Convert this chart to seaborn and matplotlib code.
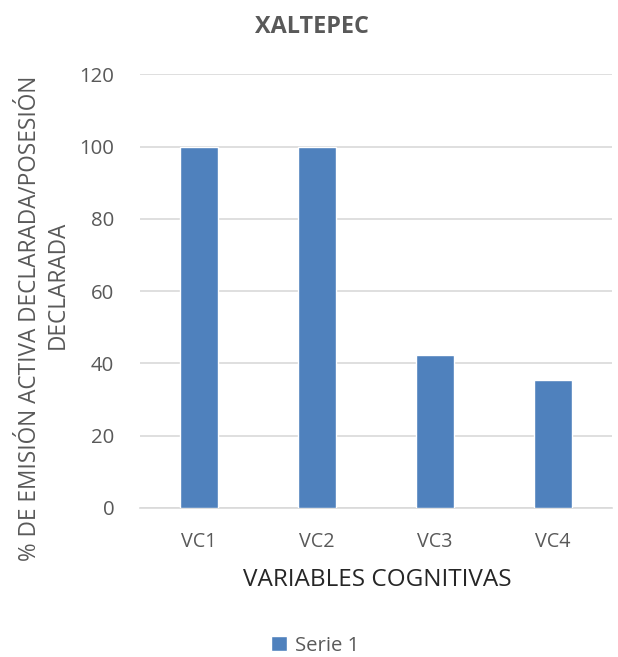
import matplotlib
matplotlib.use("Agg")
import matplotlib.pyplot as plt
import seaborn as sns
import pandas as pd

categories = ["VC1", "VC2", "VC3", "VC4"]
serie_1 = [100, 100, 42.3, 35.3]
y_ticks = [0, 20, 40, 60, 80, 100, 120]

df = pd.DataFrame({"cat": categories, "val": serie_1})

sns.set_theme(style="white")
plt.rcParams["font.family"] = ["Open Sans", "DejaVu Sans"]

fig = plt.figure(figsize=(6.18, 6.57), dpi=100)
ax = fig.add_axes([0.2265, 0.2268, 0.7635, 0.6602])

sns.barplot(data=df, x="cat", y="val", color="#4f81bd", saturation=1,
            width=0.32, ax=ax, label="Serie 1", zorder=3)

ax.set_ylim(0, 120)
ax.set_yticks(y_ticks)
ax.set_xlim(-0.5, 3.5)
ax.yaxis.grid(True, color="#d9d9d9", linewidth=1.2, zorder=0)
ax.xaxis.grid(False)
for side in ["left", "right", "top"]:
    ax.spines[side].set_visible(False)
ax.spines["bottom"].set_color("#d9d9d9")
ax.spines["bottom"].set_linewidth(1.2)
ax.tick_params(axis="y", length=0, labelsize=14.7, colors="#595959", pad=18.5)
ax.tick_params(axis="x", length=0, labelsize=14.2, colors="#595959", pad=17)
ax.set_xlabel("")
ax.set_ylabel("")

# axis titles
fig.text(0.610, 0.117, "VARIABLES COGNITIVAS", ha="center", va="center",
         fontsize=17.5, color="#262626")
fig.text(0.048, 0.516, "% DE EMISIÓN ACTIVA DECLARADA/POSESIÓN", rotation=90,
         ha="center", va="center", fontsize=16.3, color="#595959")
fig.text(0.093, 0.566, "DECLARADA", rotation=90,
         ha="center", va="center", fontsize=16.3, color="#595959")

fig.text(0.504, 0.959, "XALTEPEC", ha="center", va="center",
         fontsize=16.8, fontweight="bold", color="#595959")

leg = ax.legend(loc="center", frameon=False,
                fontsize=14.6, handlelength=0.75, handleheight=0.75,
                handletextpad=0.4, labelcolor="#595959")
leg.set_bbox_to_anchor((0.51, 0.017), transform=fig.transFigure)

fig.savefig("out.png", dpi=100, facecolor="white")
